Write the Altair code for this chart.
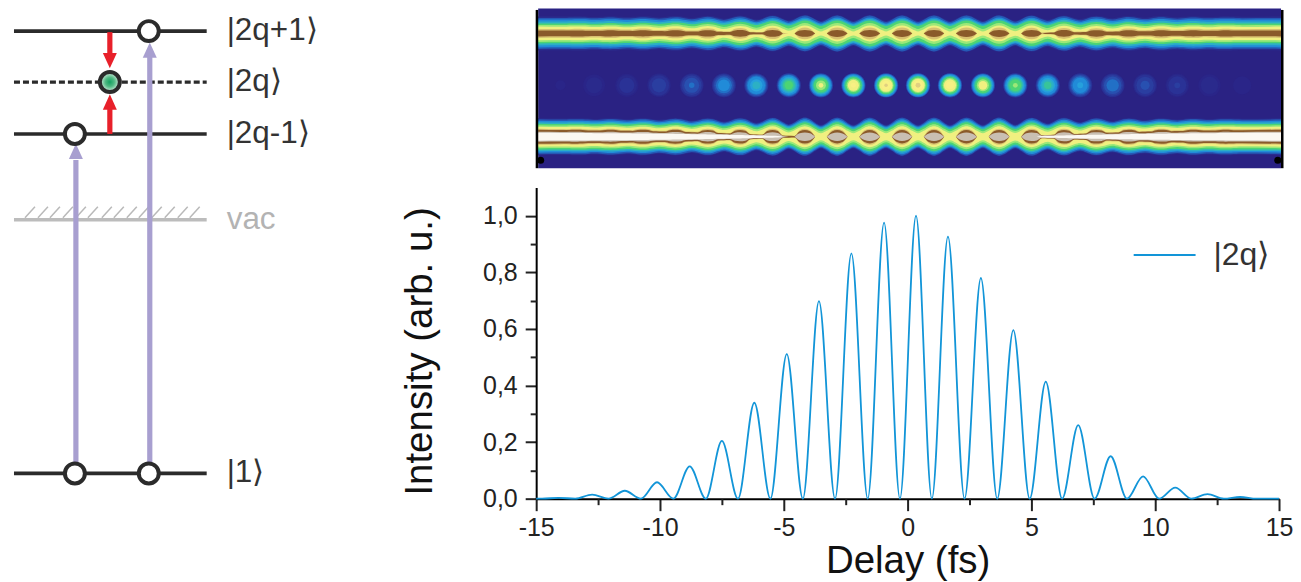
import math
import altair as alt
import pandas as pd

# ---- line chart data ----
peak_delay = [-14.1, -12.74, -11.42, -10.12, -8.80, -7.50, -6.19, -4.88, -3.58, -2.27, -0.95,
              0.34, 1.63, 2.96, 4.27, 5.58, 6.89, 8.20, 9.51, 10.81, 12.11, 13.43]
peak_value = [.003, .014, .028, .058, .114, .204, .339, .511, .698, .867, .976,
              1.0, .926, .78, .596, .414, .26, .15, .079, .039, .016, .006]
zero_delay = [-15, -14.76, -13.42, -12.08, -10.77, -9.46, -8.15, -6.85, -5.54, -4.23, -2.93, -1.61,
              -0.31, 0.98, 2.30, 3.62, 4.93, 6.24, 7.55, 8.86, 10.16, 11.46, 12.77, 14.09, 15]
x_major = [-15, -10, -5, 0, 5, 10, 15]
x_minor = [-12.5, -7.5, -2.5, 2.5, 7.5, 12.5]
y_major = [0, .2, .4, .6, .8, 1.0]
y_minor = [.1, .3, .5, .7, .9]

# ---- heat map contour levels: colour, half-width in wing, at lobe, at waist ----
low_levels = [
    ("#2a2c8e", 18.5, 19.5, 12), ("#2559b5", 17.5, 19, 11), ("#218bd8", 16, 17.5, 10),
    ("#2cb0c4", 14.5, 16, 9), ("#4cd474", 13, 14.5, 7.5), ("#9ce878", 11.5, 12.5, 5.5),
    ("#f0f080", 10, 10.5, 3.5), ("#d8c070", 8, 8, 0), ("#8a5a2a", 7, 6.7, 0),
    ("#c9bfb2", 5, 4.2, 0), ("#fbf8f2", 4, 0, 0)]
top_levels = [
    ("#2a2c8e", 17, 18.5, 12.5), ("#2559b5", 15.5, 18, 11.5), ("#218bd8", 14, 16, 10),
    ("#2cb0c4", 12, 14.5, 9), ("#4cd474", 10, 13, 7.5), ("#9ce878", 8.5, 10.5, 4.5),
    ("#f0f080", 6.8, 8, 2), ("#d8c070", 4.5, 6, 0), ("#8a5a2a", 3, 3.5, 0)]
dot_levels = [
    (.006, "#2a2588"), (.015, "#2a2a8c"), (.03, "#2a3296"), (.06, "#2a3ea0"), (.10, "#2850b0"),
    (.15, "#2270c6"), (.20, "#218bd8"), (.30, "#26a0dc"), (.36, "#2cb0c4"), (.43, "#38c49a"),
    (.50, "#4cd474"), (.62, "#9ce878"), (.71, "#f0f080"), (.85, "#f8f084"), (.96, "#e0d080")]
HEAT_BG = "#2a2283"
BAND_TOP, BAND_LOW = -52, 51.5

# ---- level scheme ----
level_names = ["|2q+1⟩", "|2q⟩", "|2q-1⟩", "vac", "|1⟩"]
level_energy = [443, 392, 340, 254, 0]
level_colors = ["#2b2b2b", "#2b2b2b", "#2b2b2b", "#bcbcbc", "#2b2b2b"]
label_colors = ["#333333", "#333333", "#333333", "#b3b3b3", "#333333"]
hatch_tops = [27, 40, 52, 65, 78, 90, 104, 116, 129, 141, 154, 167, 180, 192]
circle_x = [141, 67, 67, 141]
circle_e = [443, 340, 0, 0]

# ---- scales ----
W_R, H = 744, 491
x_line = alt.Scale(domain=[-15, 15], range=[0, W_R], nice=False)
y_line = alt.Scale(domain=[0, 1.1], range=[491, 179.3], nice=False)
x_heat = alt.Scale(domain=[-15, 15], range=[2, W_R + 2], nice=False)
y_heat = alt.Scale(domain=[-77, 83], range=[0, 160], nice=False)
LEFT_W = 393
x_s = alt.Scale(domain=[0, LEFT_W], range=[0, LEFT_W], nice=False)
y_s = alt.Scale(domain=[-25.3, 465.7], range=[491, 0], nice=False)


def hx(f="x"):
    return alt.X(f"{f}:Q", scale=x_heat, axis=None)


def hy(f="y"):
    return alt.Y(f"{f}:Q", scale=y_heat, axis=None)


def mod(a):
    return min(1.0, 1.3 * a ** 0.6)


# ---- heat map ----
bg = alt.Chart(pd.DataFrame({"x": [-15], "x2": [15], "y": [-77], "y2": [83]})).mark_rect(
    color=HEAT_BG, opacity=1
).encode(hx(), alt.X2("x2:Q"), hy(), alt.Y2("y2:Q"))

# samples along each band: waists sit at the dots, lobes between them
samples = [(-15.0, 0.0, 0.0, 0.0)]
for i in range(len(peak_delay) - 1):
    d0, d1 = peak_delay[i], peak_delay[i + 1]
    m0, m1 = mod(peak_value[i]), mod(peak_value[i + 1])
    for frac, outer, inner in [(0, 0, 0), (.18, .35, 0), (.34, .8, .8), (.5, 1, 1),
                               (.66, .8, .8), (.82, .35, 0)]:
        samples.append((d0 + frac * (d1 - d0), m0 + frac * (m1 - m0), outer, inner))
samples.append((peak_delay[-1], mod(peak_value[-1]), 0.0, 0.0))
samples.append((15.0, 0.0, 0.0, 0.0))

rows = []
lvl = 0
for center, table in ((BAND_TOP, top_levels), (BAND_LOW, low_levels)):
    for col, wing, lobe, waist in table:
        lvl += 1
        widths = []
        for d, m, g_out, g_in in samples:
            g = g_in if waist <= 0.5 else g_out
            target = waist + g * (lobe - waist)
            w = max(0.0, wing + m * (target - wing))
            widths.append(w if w >= 0.7 else 0.0)
        # each run of non-zero width is its own shape, so no hairline joins the lobes
        run = 0
        for k, (s, hw) in enumerate(zip(samples, widths)):
            prev_on = k > 0 and widths[k - 1] > 0
            next_on = k < len(widths) - 1 and widths[k + 1] > 0
            if hw > 0 or prev_on or next_on:
                if not prev_on and (hw == 0 or k == 0):
                    run += 1
                rows.append({"x": s[0], "y": center - hw, "y2": center + hw, "c": col,
                             "lvl": lvl * 1000 + run, "o": lvl})
                if hw == 0 and prev_on and next_on:
                    run += 1
                    rows.append({"x": s[0], "y": center - hw, "y2": center + hw, "c": col,
                                 "lvl": lvl * 1000 + run, "o": lvl})
bands = alt.Chart(pd.DataFrame(rows)).mark_area(interpolate="monotone", opacity=1).encode(
    hx(), hy(), alt.Y2("y2:Q"), alt.Color("c:N", scale=None), alt.Detail("lvl:Q"),
    alt.Order("o:Q"))

rows = []
R = 14
for t, col in dot_levels:
    for d, a in zip(peak_delay, peak_value):
        eff = a ** 0.85
        if eff > t:
            r = R * math.sqrt(1 - t / eff)
            rows.append({"x": d, "y": 0, "c": col, "s": math.pi * r * r, "t": t})
dots = alt.Chart(pd.DataFrame(rows)).mark_circle(opacity=1, strokeWidth=0).encode(
    hx(), hy(), alt.Color("c:N", scale=None), alt.Size("s:Q", scale=None), alt.Order("t:Q"))

border = alt.Chart(pd.DataFrame({"x": [-15.05, 15.05], "y": [-75.5, -75.5], "y2": [83, 83]})).mark_rule(
    color="black", strokeWidth=2.5
).encode(hx(), hy(), alt.Y2("y2:Q"))
corners = alt.Chart(pd.DataFrame({"x": [-14.9, 14.87], "y": [75, 75]})).mark_circle(
    color="black", size=50, opacity=1
).encode(hx(), hy())

# ---- line ----
curve = sorted([(d, v) for d, v in zip(peak_delay, peak_value)] + [(d, 0.0) for d in zero_delay])
line_df = pd.DataFrame(curve, columns=["delay", "intensity"])
AX = dict(domainColor="black", domainWidth=2, tickColor="#222222", tickWidth=2, grid=False,
          labelFont="Liberation Sans", labelFontSize=25, labelColor="#222222",
          titleFont="Liberation Sans", titleFontWeight="normal", titleColor="#111111",
          titleFontSize=38.5)
line = alt.Chart(line_df).mark_line(interpolate="monotone", color="#1295d8", strokeWidth=1.8).encode(
    alt.X("delay:Q", scale=x_line, axis=alt.Axis(
        values=x_major, tickSize=12, labelPadding=5, labelExpr="'' + datum.value", title="Delay (fs)",
        titlePadding=2, labelFlush=False, labelOverlap=False, orient="bottom", **AX)),
    alt.Y("intensity:Q", scale=y_line, axis=alt.Axis(
        values=y_major, tickSize=11, labelPadding=8,
        labelExpr="replace(format(datum.value, '.1f'), '.', ',')", title="Intensity (arb. u.)",
        titlePadding=43, titleY=343, labelOverlap=False, orient="left", **AX)),
)
minor_ax = dict(labels=False, title=None, tickSize=6, domain=False, grid=False, tickColor="#222222",
                tickWidth=2)
minor = alt.Chart(pd.DataFrame({"x": [0], "y": [0]})).mark_point(opacity=0).encode(
    alt.X("x:Q", scale=x_line, axis=alt.Axis(values=x_minor, orient="bottom", **minor_ax)),
    alt.Y("y:Q", scale=y_line, axis=alt.Axis(values=y_minor, orient="left", **minor_ax)),
)

# ---- in-plot legend ----
leg_line = alt.Chart(pd.DataFrame({"x": [9.13], "x2": [11.63], "y": [.861]})).mark_rule(
    color="#1295d8", strokeWidth=2
).encode(alt.X("x:Q", scale=x_line, axis=None), alt.X2("x2:Q"),
         alt.Y("y:Q", scale=y_line, axis=None))
leg_text = alt.Chart(pd.DataFrame({"x": [12.35], "y": [.861], "t": ["|2q⟩"]})).mark_text(
    align="left", baseline="middle", font="Liberation Sans", fontSize=32, color="#333333"
).encode(alt.X("x:Q", scale=x_line, axis=None), alt.Y("y:Q", scale=y_line, axis=None), text="t:N")

right = alt.layer(bg, bands, dots, border, corners, line, minor, leg_line, leg_text).resolve_scale(
    x="independent", y="independent"
).properties(width=W_R, height=H)

# ---- level scheme ----
sx = lambda f="x": alt.X(f"{f}:Q", scale=x_s, axis=None)
sy = lambda f="e": alt.Y(f"{f}:Q", scale=y_s, axis=None)

lv = pd.DataFrame({"x": [6] * 5, "x2": [199] * 5, "e": level_energy, "c": level_colors,
                   "n": level_names, "lc": label_colors, "tx": [219] * 5})
solid = alt.Chart(lv[lv.n != "|2q⟩"]).mark_rule(strokeWidth=3.6).encode(
    sx(), alt.X2("x2:Q"), sy(), alt.Color("c:N", scale=None))
dashed = alt.Chart(lv[lv.n == "|2q⟩"]).mark_rule(strokeWidth=3.2, strokeDash=[6, 3]).encode(
    sx(), alt.X2("x2:Q"), sy(), alt.Color("c:N", scale=None))
labels = alt.Chart(lv).mark_text(align="left", baseline="middle", font="Liberation Sans",
                                 fontSize=31.5).encode(
    sx("tx"), sy(), alt.Color("lc:N", scale=None), text="n:N")

hatch = alt.Chart(pd.DataFrame({"x": [t - 10 for t in hatch_tops], "x2": hatch_tops,
                                "e": [256] * 14, "e2": [267] * 14})).mark_rule(
    color="#b9b9b9", strokeWidth=1.5
).encode(sx(), alt.X2("x2:Q"), sy(), alt.Y2("e2:Q"))

purple = "#a89fd0"
red = "#e8202a"
shaft = pd.DataFrame({"x": [68, 142, 102, 102], "e": [0, 0, 442, 340], "e2": [314, 417, 421, 365],
                      "c": [purple, purple, red, red]})
shafts = alt.Chart(shaft).mark_rule(strokeWidth=5.2).encode(
    sx(), sy(), alt.Y2("e2:Q"), alt.Color("c:N", scale=None))
UP = "M0,-1.1L1,1.1L-1,1.1Z"
DOWN = "M0,1.1L1,-1.1L-1,-1.1Z"
heads_up = alt.Chart(pd.DataFrame({"x": [68, 142, 102], "e": [322.5, 424, 372],
                                   "c": [purple, purple, red]})).mark_point(
    shape=UP, size=196, filled=True, opacity=1, strokeWidth=0
).encode(sx(), sy(), alt.Color("c:N", scale=None))
heads_dn = alt.Chart(pd.DataFrame({"x": [102], "e": [413.5], "c": [red]})).mark_point(
    shape=DOWN, size=196, filled=True, opacity=1, strokeWidth=0
).encode(sx(), sy(), alt.Color("c:N", scale=None))

white_circles = alt.Chart(pd.DataFrame({"x": circle_x, "e": circle_e})).mark_circle(
    size=400, fill="white", stroke="#2b2b2b", strokeWidth=4, opacity=1
).encode(sx(), sy())
green_circle = alt.Chart(pd.DataFrame({"x": [102], "e": [392]})).mark_circle(
    size=400, stroke="#2b2b2b", strokeWidth=4, opacity=1,
    fill=alt.RadialGradient(gradient="radial", stops=[
        alt.GradientStop(color="#12a060", offset=0),
        alt.GradientStop(color="#4fb982", offset=0.45),
        alt.GradientStop(color="#e0f2e8", offset=1)])
).encode(sx(), sy())

left = alt.layer(hatch, solid, dashed, shafts, heads_up, heads_dn, white_circles, green_circle,
                 labels).properties(width=LEFT_W, height=H)

chart = alt.hconcat(left, right, spacing=0).properties(padding=0).configure_view(stroke=None)
chart.save("out.html", embed_options={"renderer": "svg", "actions": False})
